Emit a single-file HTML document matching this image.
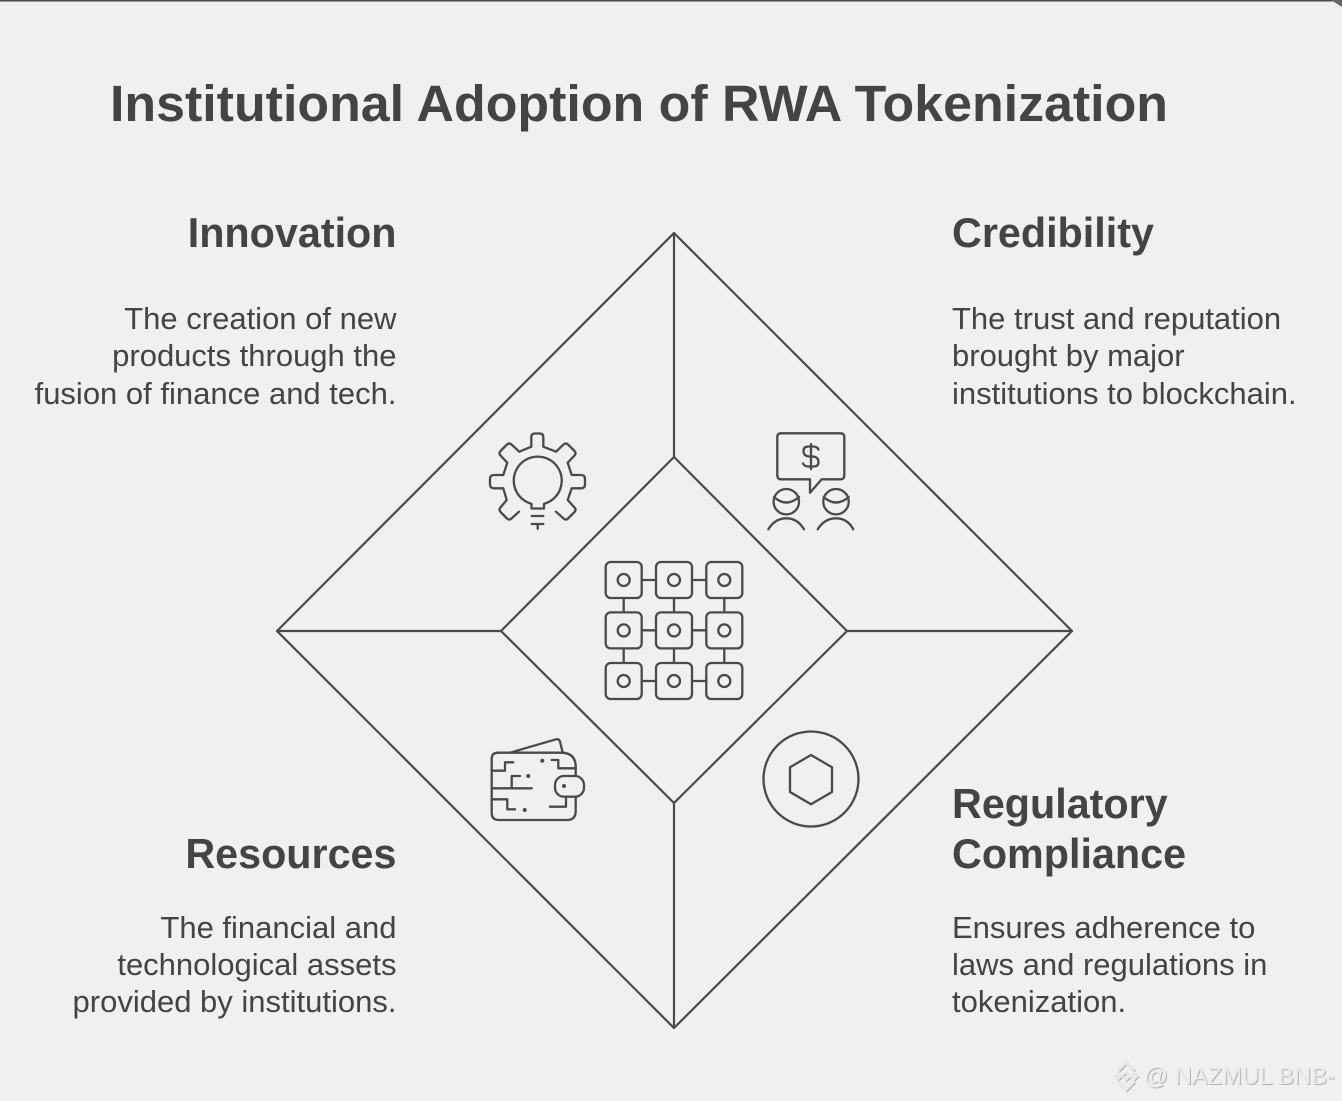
<!DOCTYPE html>
<html lang="en">
<head>
<meta charset="utf-8">
<title>Institutional Adoption of RWA Tokenization</title>
<style>
html,body{margin:0;padding:0;background:#f0f0f0;width:1342px;height:1101px;overflow:hidden}
svg{display:block}
text{font-family:"Liberation Sans",Arial,sans-serif;fill:#444}
.h{font-size:41.3px;font-weight:700}
.b{font-size:31px}
.e{text-anchor:end}
.i{fill:none;stroke:#4a4a4a;stroke-width:2.3;stroke-linejoin:round;stroke-linecap:round}
.w{filter:drop-shadow(1px 1px 0 #b4b4b4)}
</style>
</head>
<body>
<svg width="1342" height="1101" viewBox="0 0 1342 1101" xmlns="http://www.w3.org/2000/svg">
<rect width="1342" height="1101" fill="#f0f0f0"/>
<rect width="1342" height="1.5" fill="#4a4a4a"/>
<path d="M1331 0L1342 0L1342 7Z" fill="#666"/>

<text x="110" y="121" font-size="51" font-weight="700" textLength="1058" lengthAdjust="spacingAndGlyphs">Institutional Adoption of RWA Tokenization</text>

<text class="h e" x="396.5" y="247">Innovation</text>
<text class="b e" x="396.5" y="329">The creation of new</text>
<text class="b e" x="396.5" y="366">products through the</text>
<text class="b e" x="396.5" y="404">fusion of finance and tech.</text>

<text class="h" x="952" y="247">Credibility</text>
<text class="b" x="952" y="329">The trust and reputation</text>
<text class="b" x="952" y="366">brought by major</text>
<text class="b" x="952" y="404">institutions to blockchain.</text>

<text class="h e" x="396.5" y="868">Resources</text>
<text class="b e" x="396.5" y="938">The financial and</text>
<text class="b e" x="396.5" y="975">technological assets</text>
<text class="b e" x="396.5" y="1012">provided by institutions.</text>

<text class="h" x="952" y="818">Regulatory</text>
<text class="h" x="952" y="868">Compliance</text>
<text class="b" x="952" y="938">Ensures adherence to</text>
<text class="b" x="952" y="975">laws and regulations in</text>
<text class="b" x="952" y="1012">tokenization.</text>

<g fill="none" stroke="#4a4a4a" stroke-width="2.2" stroke-linejoin="round" stroke-linecap="round">
<path d="M674 233L1072 631L674 1028L277 631Z"/>
<path d="M674 457L847 631L674 803L501 631Z"/>
<path d="M674 233V457M674 803V1028M277 631H501M847 631H1072"/>
</g>

<!-- gear -->
<g class="i">
<path d="M519 511.7L511.5 518.5Q509.3 520.5 507 518.5L500.5 512Q498.5 509.5 500.5 507.5L506.7 500L503.3 488.3H494Q490 488.3 490 484V479Q490 475 494 475H503.3L507.3 462.7L500.5 455.5Q498.5 453.3 500.5 451L507 444.5Q509.3 442.5 511.5 444.5L519.3 451.7L531.3 446.7V437Q531.3 433.5 535 433.5H539.5Q543.3 433.5 543.3 437V446.7L556 451.7L563.5 444.5Q566 442.5 568 444.5L574.5 451Q576.5 453.3 574.5 455.5L567.7 462.7L571.7 475H581Q585 475 585 479V484Q585 488.3 581 488.3H571.7L567.7 500L574.5 507.5Q576.5 509.5 574.5 512L568 518.5Q566 520.5 563.5 518.5L556 511.7"/>
<path d="M531.5 508.5V503.8A24 24 0 1 1 544 503.8V508.5Z"/>
<path d="M531.7 516H543.3M531.7 524H543.3M537.7 524V528.7"/>
</g>

<!-- credibility -->
<g class="i">
<path d="M781 433.3H840.5Q844.3 433.3 844.3 437V475.5Q844.3 479.3 840.5 479.3H821.7L810 492.7V479.3H781Q777.3 479.3 777.3 475.5V437Q777.3 433.3 781 433.3Z"/>
<path d="M818.5 449.5Q817 446.5 813 446.5H808.5Q803.5 446.5 803.5 451Q803.5 456 809 456.5H813Q818.5 457 818.5 462Q818.5 466.5 813.5 466.5H808.5Q804.5 466.5 803 463.5M811 444V469"/>
<circle cx="786.3" cy="501.7" r="12.7"/>
<circle cx="836" cy="501.7" r="12.7"/>
<path d="M774 497Q786.3 508 799 497M823.7 497Q836 508 848.7 497"/>
<path d="M768.3 529.3Q775 518.3 786.3 518.3T804 529.3M817.7 529.3Q824.5 518.3 836 518.3T853.3 529.3"/>
</g>

<!-- grid -->
<g class="i">
<path d="M641.7 580H656M692 580H706.3M641.7 630.3H656M692 630.3H706.3M641.7 681H656M692 681H706.3M623.7 598V612.5M674 598V612.5M724.3 598V612.5M623.7 648.5V663M674 648.5V663M724.3 648.5V663"/>
<g>
<rect x="605.7" y="562" width="36" height="36" rx="5"/><rect x="656" y="562" width="36" height="36" rx="5"/><rect x="706.3" y="562" width="36" height="36" rx="5"/>
<rect x="605.7" y="612.4" width="36" height="36" rx="5"/><rect x="656" y="612.4" width="36" height="36" rx="5"/><rect x="706.3" y="612.4" width="36" height="36" rx="5"/>
<rect x="605.7" y="663" width="36" height="36" rx="5"/><rect x="656" y="663" width="36" height="36" rx="5"/><rect x="706.3" y="663" width="36" height="36" rx="5"/>
<circle cx="623.7" cy="580" r="6"/><circle cx="674" cy="580" r="6"/><circle cx="724.3" cy="580" r="6"/>
<circle cx="623.7" cy="630.4" r="6"/><circle cx="674" cy="630.4" r="6"/><circle cx="724.3" cy="630.4" r="6"/>
<circle cx="623.7" cy="681" r="6"/><circle cx="674" cy="681" r="6"/><circle cx="724.3" cy="681" r="6"/>
</g>
</g>

<!-- wallet -->
<g class="i">
<path d="M575.7 776V767Q575.7 752.7 561 752.7H498Q491.7 752.7 491.7 759V813Q491.7 820 499 820H567Q575.7 820 575.7 811V796.7"/>
<path d="M510 752.7L556 739.3Q559 738.7 560 741.5L562.7 752.7"/>
<rect x="555" y="776" width="29" height="20.7" rx="9"/>
<path d="M491.7 770.7H505V762.3H513.3M491.7 788.3H531.7M511.7 788.3V776H520M491.7 799.3H507.3V809.3H515M551.7 760H558.3V768.3H575.7M550 806.7H566V796.7"/>
</g>
<g fill="#4a4a4a">
<circle cx="564" cy="786" r="2"/><circle cx="528.3" cy="776" r="2"/><circle cx="524.7" cy="810" r="2"/><circle cx="542.3" cy="760.7" r="2"/>
</g>

<!-- coin -->
<g class="i">
<circle cx="811" cy="779" r="47.5"/>
<path d="M811 755L832 767.3V792L811 804.3L790 792V767.3Z"/>
</g>

<!-- watermark -->
<g class="w" fill="none" stroke="#e9e9e9" stroke-width="3" stroke-linejoin="miter">
<path d="M1118 1070.5L1126 1062.5L1134 1070.5"/>
<path d="M1114 1076L1118 1072L1122 1076L1118 1080Z" fill="#e9e9e9" stroke-width="1"/>
<path d="M1134 1072L1138 1076L1134 1080L1130 1076Z" fill="#e9e9e9" stroke-width="1"/>
<path d="M1126 1072L1130 1076L1126 1080L1122 1076Z"  stroke-width="2"/>
<path d="M1118 1081.5L1126 1089.5L1134 1081.5"/>
</g>
<text class="w" x="1144" y="1084" font-size="24" textLength="191" lengthAdjust="spacingAndGlyphs" style="fill:#ececec">@ NAZMUL BNB-</text>
</svg>
</body>
</html>
